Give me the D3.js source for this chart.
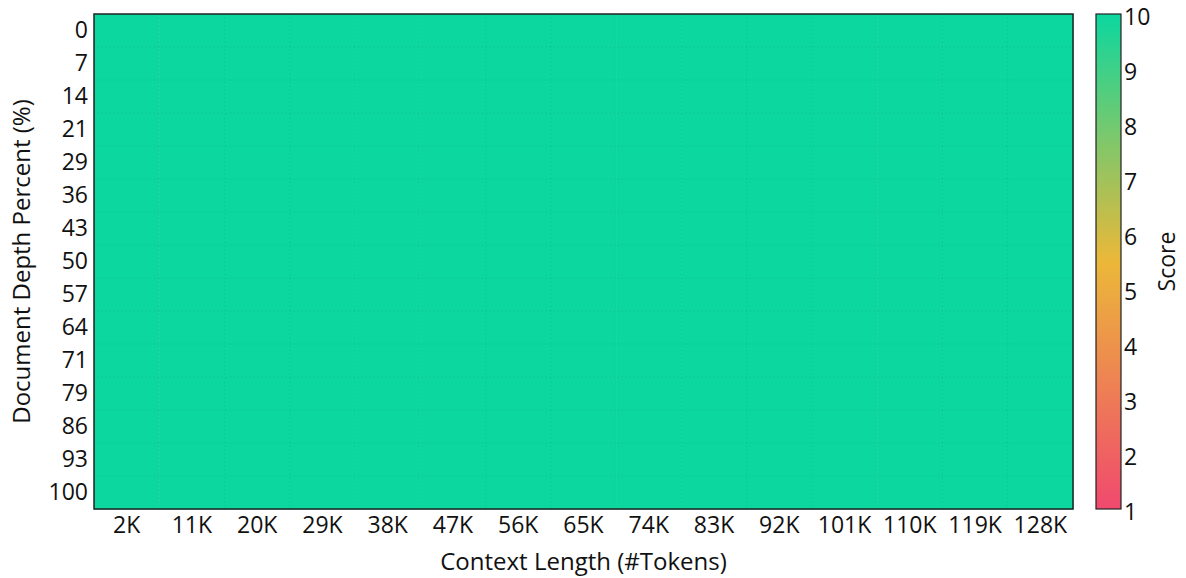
<!DOCTYPE html>
<html>
<head>
<meta charset="utf-8">
<script src="https://cdn.jsdelivr.net/npm/d3@7"></script>
<style>
  html, body { margin: 0; padding: 0; background: #fff; }
  svg { display: block; font-family: "Open Sans", "Noto Sans", sans-serif; }
</style>
</head>
<body>
<svg id="chart" width="1186" height="578"></svg>
<script>
const contextLengths = ["2K","11K","20K","29K","38K","47K","56K","65K","74K","83K","92K","101K","110K","119K","128K"];
const depthPercents = ["0","7","14","21","29","36","43","50","57","64","71","79","86","93","100"];
// scores[depthIndex][contextIndex]
const scores = [
  [10,10,10,10,10,10,10,10,10,10,10,10,10,10,10],
  [10,10,10,10,10,10,10,10,10,10,10,10,10,10,10],
  [10,10,10,10,10,10,10,10,10,10,10,10,10,10,10],
  [10,10,10,10,10,10,10,10,10,10,10,10,10,10,10],
  [10,10,10,10,10,10,10,10,10,10,10,10,10,10,10],
  [10,10,10,10,10,10,10,10,10,10,10,10,10,10,10],
  [10,10,10,10,10,10,10,10,10,10,10,10,10,10,10],
  [10,10,10,10,10,10,10,10,10,10,10,10,10,10,10],
  [10,10,10,10,10,10,10,10,10,10,10,10,10,10,10],
  [10,10,10,10,10,10,10,10,10,10,10,10,10,10,10],
  [10,10,10,10,10,10,10,10,10,10,10,10,10,10,10],
  [10,10,10,10,10,10,10,10,10,10,10,10,10,10,10],
  [10,10,10,10,10,10,10,10,10,10,10,10,10,10,10],
  [10,10,10,10,10,10,10,10,10,10,10,10,10,10,10],
  [10,10,10,10,10,10,10,10,10,10,10,10,10,10,10]
];
const scoreTicks = [1,2,3,4,5,6,7,8,9,10];
const cmapStops = ["#F0496E", "#EBB839", "#0CD79F"];

const FONT = "'Open Sans', 'Noto Sans', sans-serif";
const svg = d3.select("#chart");
const m = { left: 94, top: 14, right: 1073, bottom: 509 };

const x = d3.scaleBand().domain(contextLengths).range([m.left, m.right]).padding(0);
const y = d3.scaleBand().domain(depthPercents).range([m.top, m.bottom]).padding(0);
const color = d3.scaleLinear().domain([1, 5.5, 10]).range(cmapStops).interpolate(d3.interpolateRgb);

const cells = [];
scores.forEach((row, i) => row.forEach((v, j) => cells.push({ d: depthPercents[i], c: contextLengths[j], v })));

svg.append("g").selectAll("rect").data(cells).join("rect")
  .attr("x", d => x(d.c)).attr("y", d => y(d.d))
  .attr("width", x.bandwidth() + 0.5).attr("height", y.bandwidth() + 0.5)
  .attr("fill", d => color(d.v));

// faint dotted cell borders
const grid = svg.append("g").attr("stroke", "rgba(0,0,0,0.10)").attr("stroke-width", 1).attr("stroke-dasharray", "1,3");
contextLengths.slice(1).forEach(c => grid.append("line").attr("x1", x(c)).attr("x2", x(c)).attr("y1", m.top).attr("y2", m.bottom));
depthPercents.slice(1).forEach(d => grid.append("line").attr("x1", m.left).attr("x2", m.right).attr("y1", y(d)).attr("y2", y(d)));

svg.append("rect").attr("x", m.left).attr("y", m.top).attr("width", m.right - m.left).attr("height", m.bottom - m.top)
  .attr("fill", "none").attr("stroke", "#222").attr("stroke-width", 1.5);

// axes
const xAxis = svg.append("g").attr("transform", `translate(0,${m.bottom})`)
  .call(d3.axisBottom(x).tickSize(0).tickPadding(8));
xAxis.select(".domain").remove();
xAxis.selectAll("text").attr("font-size", 23).attr("fill", "#111").attr("font-family", FONT);

const yAxis = svg.append("g").attr("transform", `translate(${m.left},0)`)
  .call(d3.axisLeft(y).tickSize(0).tickPadding(6));
yAxis.select(".domain").remove();
yAxis.selectAll("text").attr("font-size", 23).attr("fill", "#111").attr("font-family", FONT);

svg.append("text").attr("x", (m.left + m.right) / 2).attr("y", 570).attr("text-anchor", "middle")
  .attr("font-size", 24).attr("fill", "#111").text("Context Length (#Tokens)");
svg.append("text").attr("transform", `translate(30,${(m.top + m.bottom) / 2}) rotate(-90)`).attr("text-anchor", "middle")
  .attr("font-size", 24).attr("fill", "#111").text("Document Depth Percent (%)");

// colorbar
const cb = { x: 1096, w: 25 };
const cy = d3.scaleLinear().domain([1, 10]).range([m.bottom, m.top]);
const defs = svg.append("defs");
const grad = defs.append("linearGradient").attr("id", "cbgrad").attr("x1", 0).attr("y1", 1).attr("x2", 0).attr("y2", 0);
d3.range(0, 1.0001, 0.05).forEach(t => {
  const v = 1 + 9 * t;
  grad.append("stop").attr("offset", t).attr("stop-color", color(v));
});
svg.append("rect").attr("x", cb.x).attr("y", m.top).attr("width", cb.w).attr("height", m.bottom - m.top)
  .attr("fill", "url(#cbgrad)").attr("stroke", "#222").attr("stroke-width", 1.2);
const cAxis = svg.append("g").attr("transform", `translate(${cb.x + cb.w},0)`)
  .call(d3.axisRight(cy).tickValues(scoreTicks).tickFormat(d3.format("d")).tickSize(0).tickPadding(3));
cAxis.select(".domain").remove();
cAxis.selectAll("text").attr("font-size", 23).attr("fill", "#111").attr("font-family", FONT)
  .attr("dy", "0.45em");
svg.append("text").attr("transform", `translate(1175,${(m.top + m.bottom) / 2}) rotate(-90)`).attr("text-anchor", "middle")
  .attr("font-size", 23).attr("fill", "#111").text("Score");
</script>
</body>
</html>
